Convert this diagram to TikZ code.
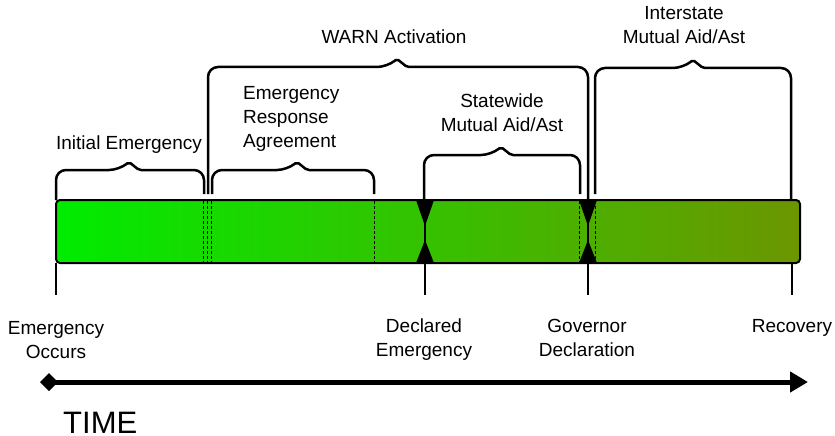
\documentclass[tikz,border=0pt]{standalone}
\usepackage{fontspec}
\setmainfont{Liberation Sans}
\usetikzlibrary{arrows.meta,positioning}
\definecolor{barleft}{RGB}{0,236,0}
\definecolor{barright}{RGB}{108,150,0}
\tikzstyle{stage} = [inner sep=0pt, align=center, font=\fontsize{19}{24}\selectfont]
\tikzstyle{bracket} = [line width=2.5pt, rounded corners=10pt]
\tikzstyle{stem} = [line width=2.7pt]
\tikzstyle{guide} = [densely dashed, line width=0.6pt]
\tikzstyle{bar} = [draw, line width=2pt, rounded corners=4pt, minimum width=744pt, minimum height=63pt, inner sep=0pt, left color=barleft, right color=barright]

\begin{document}
\begin{tikzpicture}[x=1pt, y=-1pt]
\useasboundingbox (0,0) rectangle (835,436);

% brackets over the bar
\draw[bracket] (56,200) -- (56,170) -- (119,170) [rounded corners=2pt] -- (129,162) -- (139,170) [rounded corners=10pt] -- (204,170) -- (204,194);
\draw[bracket] (212,194) -- (212,170) -- (287,170) [rounded corners=2pt] -- (297,162) -- (307,170) [rounded corners=10pt] -- (374,170) -- (374,194);
\draw[bracket] (208,194) -- (208,67) -- (387,67) [rounded corners=2pt] -- (397,59) -- (407,67) [rounded corners=10pt] -- (588,67) -- (588,200);
\draw[bracket] (424,200) -- (424,155) -- (491,155) [rounded corners=2pt] -- (501,147) -- (511,155) [rounded corners=10pt] -- (580,155) -- (580,194);
\draw[bracket] (595,194) -- (595,68) -- (683,68) [rounded corners=2pt] -- (693,60) -- (703,68) [rounded corners=10pt] -- (791,68) -- (791,200);

\node [stage, anchor=north] (warn) at (394,30) {WARN Activation};
\node [stage, anchor=north] (interstate) at (684,6) {Interstate\\Mutual Aid/Ast};
\node [stage, anchor=north west, align=left] (agreement) at (243,86) {Emergency\\Response\\Agreement};
\node [stage, anchor=north] (statewide) at (502,94) {Statewide\\Mutual Aid/Ast};
\node [stage, anchor=north] (initial) at (129,136) {Initial Emergency};

% the time bar
\node [bar] (bar) at (428,231.5) {};

\draw[guide] (203.5,201) -- (203.5,262);
\draw[guide] (207.5,201) -- (207.5,262);
\draw[guide] (211.5,201) -- (211.5,262);
\draw[guide] (374,201) -- (374,262);
\draw[guide] (579,201) -- (579,262);
\draw[guide] (595,201) -- (595,262);

% markers on the bar
\coordinate (declared) at (425,200);
\coordinate (declaredB) at (425,263);
\coordinate (governor) at (588,200);
\coordinate (governorB) at (588,263);
\draw[stem] (declared) -- (declaredB);
\fill (declared) ++(-9,0) -- ++(18,0) -- ++(-9,26) -- cycle;
\fill (declaredB) ++(-9,0) -- ++(18,0) -- ++(-9,-23) -- cycle;
\draw[stem] (governor) -- (governorB);
\fill (governor) ++(-9,0) -- ++(18,0) -- ++(-9,26) -- cycle;
\fill (governorB) ++(-9,0) -- ++(18,0) -- ++(-9,-23) -- cycle;

% events below the bar
\coordinate (occursT) at (56,295);
\coordinate (declaredT) at (425,295);
\coordinate (governorT) at (588,295);
\coordinate (recoveryT) at (792,295);
\draw[stem] (56,263) -- (occursT);
\draw[stem] (declaredB) -- (declaredT);
\draw[stem] (governorB) -- (governorT);
\draw[stem] (792,263) -- (recoveryT);

\node [stage, anchor=north] (occurs) at (56,321) {Emergency\\Occurs};
\node [stage, anchor=north] (declaredL) at (424,319) {Declared\\Emergency};
\node [stage, anchor=north] (governorL) at (587,319) {Governor\\Declaration};
\node [stage, anchor=north] (recovery) at (792,319) {Recovery};

% time axis
\coordinate (start) at (40,382);
\coordinate (end) at (808,382);
\draw[line width=5pt, {Diamond[length=18pt,width=18pt]}-{Triangle[length=18pt,width=20pt]}] (start) -- (end);
\node [inner sep=0pt, anchor=base west, font=\fontsize{31}{37}\selectfont] (time) at (63,433) {TIME};

\end{tikzpicture}
\end{document}
